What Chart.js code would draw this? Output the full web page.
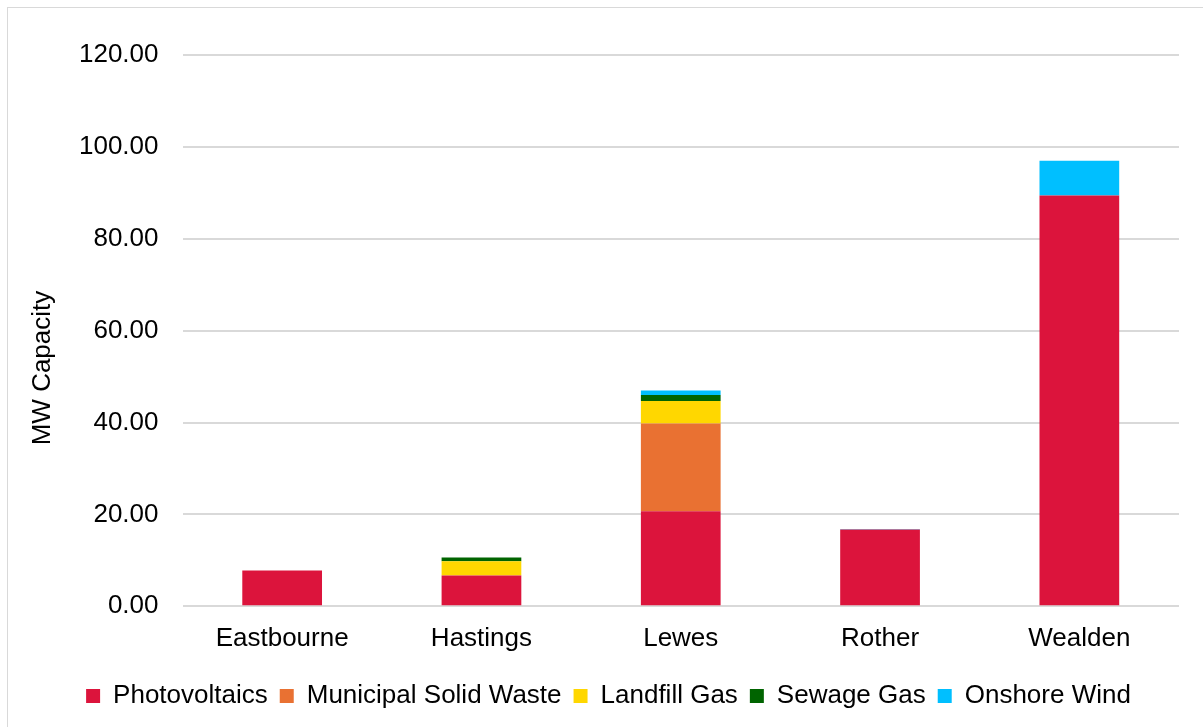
<!DOCTYPE html>
<html>
<head>
<meta charset="utf-8">
<script src="https://cdn.jsdelivr.net/npm/chart.js@4.4.0/dist/chart.umd.min.js"></script>
<style>
    html, body { margin: 0; padding: 0; background: #fff; overflow: hidden; }
    #frame { position: absolute; left: 7px; top: 7px; width: 1300px; height: 800px;
             border-left: 1px solid #d9d9d9; border-top: 1px solid #d9d9d9; }
    #wrap { position: absolute; left: 0; top: 0; width: 1203px; height: 727px; }
</style>
</head>
<body>
<div id="frame"></div>
<div id="wrap"><canvas id="capacityChart"></canvas></div>
<script>
// Renewable capacity (MW) by district
const districts = ['Eastbourne', 'Hastings', 'Lewes', 'Rother', 'Wealden'];
const photovoltaics = [7.8, 6.7, 20.7, 16.7, 89.4];
const municipalSolidWaste = [0, 0, 19.1, 0, 0];
const landfillGas = [0, 3.1, 4.9, 0, 0];
const sewageGas = [0, 0.8, 1.3, 0, 0];
const onshoreWind = [0, 0, 0.95, 0.1, 7.6];
const yTicks = [0, 20, 40, 60, 80, 100, 120];
const yTitle = 'MW Capacity';

const fontFamily = 'Liberation Sans, Arial, sans-serif';
const tickFont = { family: fontFamily, size: 26 };

// the original legend isn't centred on the canvas
const legendShift = {
    id: 'legendShift',
    afterLayout(chart) {
        chart.legend.left += 19;
        chart.legend.right += 19;
    }
};

// axis title sits a bit lower than the plot centre in the original
const axisTitle = {
    id: 'axisTitle',
    afterDraw(chart) {
        const c = chart.ctx;
        c.save();
        c.translate(43, 368);
        c.rotate(-Math.PI / 2);
        c.font = '26px ' + fontFamily;
        c.fillStyle = '#000';
        c.textAlign = 'center';
        c.textBaseline = 'middle';
        c.fillText(yTitle, 0, 0);
        c.restore();
    }
};

const ctx = document.getElementById('capacityChart').getContext('2d');
new Chart(ctx, {
    type: 'bar',
    data: {
        labels: districts,
        datasets: [
            { label: 'Photovoltaics', data: photovoltaics, backgroundColor: '#DC143C' },
            { label: 'Municipal Solid Waste', data: municipalSolidWaste, backgroundColor: '#E97132' },
            { label: 'Landfill Gas', data: landfillGas, backgroundColor: '#FFD700' },
            { label: 'Sewage Gas', data: sewageGas, backgroundColor: '#006400' },
            { label: 'Onshore Wind', data: onshoreWind, backgroundColor: '#00BFFF' }
        ]
    },
    options: {
        responsive: true,
        maintainAspectRatio: false,
        animation: false,
        datasets: {
            bar: { categoryPercentage: 1, barPercentage: 0.4, borderWidth: 0 }
        },
        layout: { padding: { top: 55, right: 24, bottom: 8, left: 0 } },
        plugins: {
            legend: {
                position: 'bottom',
                labels: {
                    boxWidth: 14,
                    boxHeight: 14,
                    padding: 12,
                    color: '#000',
                    font: { family: fontFamily, size: 26 }
                }
            },
            tooltip: { enabled: false }
        },
        scales: {
            x: {
                stacked: true,
                afterFit: s => { s.height += 7.5; },
                grid: { display: false },
                border: { display: false },
                ticks: { color: '#000', font: tickFont, padding: 9 }
            },
            y: {
                stacked: true,
                min: 0,
                max: 120,
                afterBuildTicks: s => { s.ticks = yTicks.map(v => ({ value: v })); },
                afterFit: s => { s.width = 182.5; },
                grid: { color: '#d9d9d9', lineWidth: 2, drawTicks: false },
                border: { display: false },
                ticks: { color: '#000', font: tickFont, padding: 24, callback: v => v.toFixed(2) }
            }
        }
    },
    plugins: [legendShift, axisTitle]
});
</script>
</body>
</html>
